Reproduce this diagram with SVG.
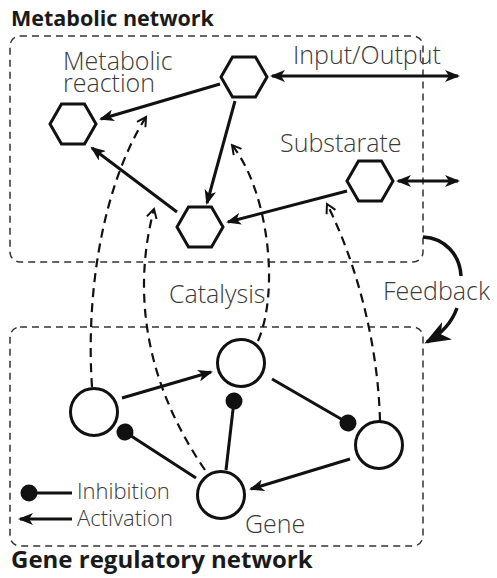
<svg xmlns="http://www.w3.org/2000/svg" width="497" height="578" viewBox="0 0 497 578">
  <style>
    .title { font-family: "Open Sans", "DejaVu Sans", sans-serif; font-weight: 700; fill: #1a1a1a; }
    .label { font-family: "Open Sans", "DejaVu Sans", sans-serif; font-weight: 300; font-size: 25px; fill: #3a3a3a; }
    .legend { font-size: 22px; }
    .box { fill: none; stroke: #333; stroke-width: 1.5; stroke-dasharray: 7 5; }
    .node { fill: #fff; stroke: #111; stroke-width: 3; }
    .act { fill: none; stroke: #111; stroke-width: 3; marker-end: url(#arrow); }
    .io { fill: none; stroke: #111; stroke-width: 3; marker-start: url(#arrow); marker-end: url(#arrow); }
    .inh { fill: none; stroke: #111; stroke-width: 3; marker-end: url(#dot); }
    .cat { fill: none; stroke: #111; stroke-width: 2.2; stroke-dasharray: 9 6; marker-end: url(#chevron); }
    .fb { fill: none; stroke: #111; stroke-width: 3.5; }
  </style>
  <defs>
    <polygon id="hex" points="-23,0 -11.5,-20 11.5,-20 23,0 11.5,20 -11.5,20"/>
    <marker id="arrow" viewBox="0 0 15 12" refX="13" refY="6" markerWidth="15" markerHeight="12" markerUnits="userSpaceOnUse" orient="auto-start-reverse">
      <path d="M0,0 L15,6 L0,12 L4,6 Z" fill="#111"/>
    </marker>
    <marker id="bigarrow" viewBox="0 0 26 20" refX="23" refY="10" markerWidth="26" markerHeight="20" markerUnits="userSpaceOnUse" orient="auto">
      <path d="M0,0 L26,10 L0,20 L7,10 Z" fill="#111"/>
    </marker>
    <marker id="dot" viewBox="0 0 18 18" refX="9" refY="9" markerWidth="18" markerHeight="18" markerUnits="userSpaceOnUse" orient="auto">
      <circle cx="9" cy="9" r="8.5" fill="#111"/>
    </marker>
    <marker id="chevron" viewBox="0 0 12 12" refX="10" refY="6" markerWidth="12" markerHeight="12" markerUnits="userSpaceOnUse" orient="auto">
      <path d="M1,1 L10,6 L1,11" fill="none" stroke="#111" stroke-width="2"/>
    </marker>
  </defs>

  <!-- Network frames -->
  <text class="title" x="11" y="26" font-size="21.5">Metabolic network</text>
  <rect class="box" x="10" y="36" width="413" height="226" rx="10"/>
  <rect class="box" x="10" y="327" width="413" height="219" rx="10"/>
  <text class="title" x="11" y="568" font-size="24">Gene regulatory network</text>

  <!-- Connectors -->
  <g id="connectors">
    <!-- catalysis: genes to reactions -->
    <path class="cat" d="M92,387 C86,300 100,190 146,117"/>
    <path class="cat" d="M205,470 C150,390 130,300 154,209"/>
    <path class="cat" d="M258,341 C280,290 268,190 232,145"/>
    <path class="cat" d="M380,421 C378,340 355,260 327,204"/>

    <!-- metabolic flows -->
    <path class="act" d="M220,84 L101,119"/>
    <path class="act" d="M177,212 L92,148"/>
    <path class="act" d="M235,101 L207,203"/>
    <path class="act" d="M347,191 L228,222"/>
    <path class="io" d="M272,76 L458,76"/>
    <path class="io" d="M398,181 L458,181"/>

    <!-- gene regulation -->
    <path class="act" d="M122,398 L211,372"/>
    <path class="inh" d="M196,478 L125,432"/>
    <path class="inh" d="M226,470 L234,401"/>
    <path class="inh" d="M272,379 L348,423"/>
    <path class="act" d="M350,459 L251,489"/>

    <!-- feedback -->
    <path class="fb" d="M423,237 C445,238 460,255 461,276"/>
    <path class="fb" d="M457,308 C452,322 443,333 427,342" marker-end="url(#bigarrow)"/>

    <!-- legend -->
    <path class="inh" d="M72,493 L29,493"/>
    <path class="act" d="M72,519 L20,519"/>
  </g>

  <!-- Metabolites -->
  <g id="met-left"><use href="#hex" x="73" y="124" class="node"/></g>
  <g id="met-top"><use href="#hex" x="244" y="77" class="node"/></g>
  <g id="met-mid"><use href="#hex" x="200" y="227" class="node"/></g>
  <g id="met-substrate"><use href="#hex" x="370" y="181" class="node"/></g>

  <!-- Genes -->
  <g id="gene-a"><circle class="node" cx="94" cy="412" r="23.5"/></g>
  <g id="gene-b"><circle class="node" cx="241" cy="363" r="23.5"/></g>
  <g id="gene-c"><circle class="node" cx="379" cy="445" r="23.5"/></g>
  <g id="gene-d"><circle class="node" cx="221" cy="495" r="23.5"/></g>

  <!-- Labels -->
  <text class="label" x="63" y="70">Metabolic<tspan x="63" y="92">reaction</tspan></text>
  <text class="label" x="293" y="64">Input/Output</text>
  <text class="label" x="280" y="152">Substarate</text>
  <text class="label" x="169" y="303">Catalysis</text>
  <text class="label" x="383" y="300">Feedback</text>
  <text class="label" x="245" y="533">Gene</text>
  <text class="label legend" x="77" y="499">Inhibition</text>
  <text class="label legend" x="77" y="526">Activation</text>
</svg>
